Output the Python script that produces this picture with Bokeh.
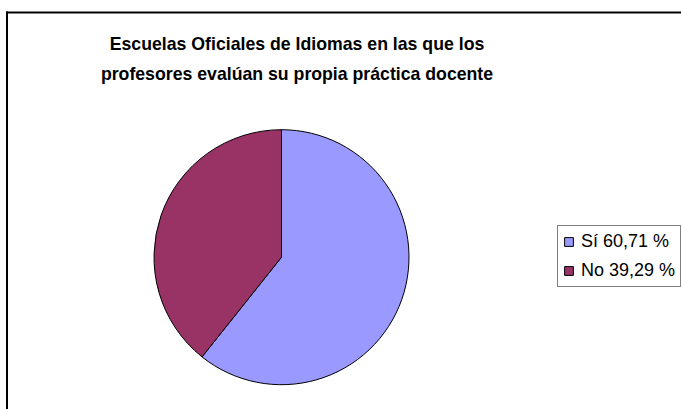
import math
from bokeh.plotting import figure
from bokeh.models import ColumnDataSource, Range1d, Legend, LegendItem, Label, BoxAnnotation
from bokeh.embed import file_html
from bokeh.resources import INLINE

# ---- data ----
title_lines = ["Escuelas Oficiales de Idiomas en las que los",
               "profesores evalúan su propia práctica docente"]
categories = ["Sí", "No"]
values = [60.71, 39.29]
colors = ["#9999FF", "#993366"]

W, H = 681, 409
p = figure(width=W, height=H, output_backend="svg", toolbar_location=None,
           x_range=Range1d(0, W), y_range=Range1d(0, H),
           x_axis_type=None, y_axis_type=None, min_border=0)
p.grid.visible = False
p.outline_line_color = None
p.background_fill_color = "white"
p.border_fill_color = "white"

# chart border (left and top visible; the rest lies outside the window)
p.add_layout(BoxAnnotation(left=5.5, right=7.5, top=H - 11, bottom=None,
                           fill_color="black", fill_alpha=1, line_color=None))
p.add_layout(BoxAnnotation(left=5.5, right=None, top=H - 11, bottom=H - 13,
                           fill_color="black", fill_alpha=1, line_color=None))

total = sum(values)
starts, ends, labels = [], [], []
cum = 0.0
for v in values:
    starts.append(math.pi / 2 - 2 * math.pi * cum / total)
    cum += v
    ends.append(math.pi / 2 - 2 * math.pi * cum / total)
for c, v in zip(categories, values):
    labels.append(f"{c} {v:.2f} %".replace(".", ","))

src = ColumnDataSource(dict(start=starts, end=ends, color=colors, label=labels))
cx, cy, r = 281, H - 256.7, 127.5
wr = p.wedge(x=cx, y=cy, radius=r, start_angle="start", end_angle="end",
             direction="clock", fill_color="color", line_color="black",
             line_width=1, source=src)

items = [LegendItem(label=labels[i], renderers=[wr], index=i) for i in range(len(labels))]
legend = Legend(items=items, location=(557, H - 287), margin=0, padding=5,
                spacing=8, glyph_width=11, glyph_height=11, label_standoff=7,
                label_height=21, label_text_font="Liberation Sans",
                label_text_font_size="18px", label_text_color="black",
                border_line_color="black", border_line_width=1,
                background_fill_color="white", background_fill_alpha=1)
p.add_layout(legend, "center")

title_y = [43.5, 73]
for t, ty in zip(title_lines, title_y):
    p.add_layout(Label(x=296.5, y=H - ty, text=t, text_align="center",
                       text_baseline="middle", text_font="Liberation Sans",
                       text_font_style="bold", text_font_size="17.7px",
                       text_color="black"))

open("out.html", "w").write(file_html(p, INLINE))
